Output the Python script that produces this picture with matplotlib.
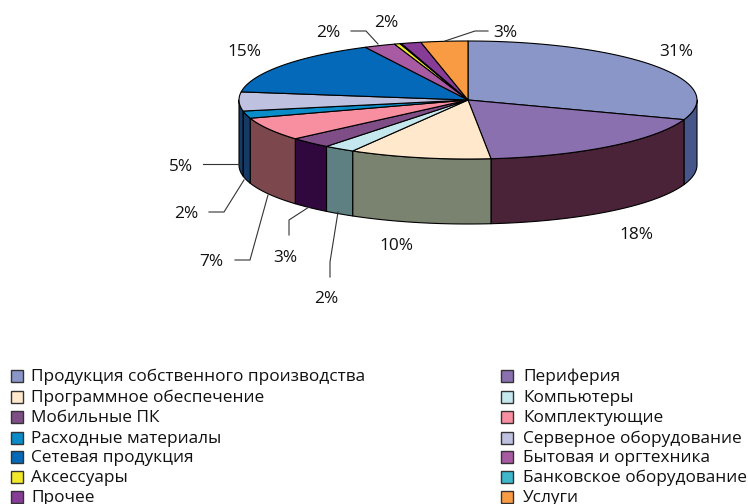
import numpy as np
import matplotlib
matplotlib.use('Agg')
import matplotlib.pyplot as plt
from matplotlib.patches import Rectangle

plt.rcParams['font.family'] = ['Open Sans', 'DejaVu Sans']

categories = ['Продукция собственного производства', 'Периферия', 'Программное обеспечение',
              'Компьютеры', 'Мобильные ПК', 'Комплектующие', 'Расходные материалы',
              'Серверное оборудование', 'Сетевая продукция', 'Бытовая и оргтехника',
              'Аксессуары', 'Банковское оборудование', 'Прочее', 'Услуги']
values = [30.4, 18.0, 10.0, 2.2, 3.0, 6.4, 2.0, 5.2, 15.4, 2.2, 0.4, 0.1, 1.4, 3.3]
top_colors = ['#8A96C8', '#8B70B0', '#FFE8CC', '#C5E8EE', '#7F4E87', '#F78FA0', '#0A8CC8',
              '#BFC1E0', '#0369B8', '#A85AA3', '#F2E82A', '#3FB8CC', '#873C98', '#F99B42']
side_colors = ['#46568A', '#4A2338', '#7A8270', '#5F8083', '#30083E', '#7D474E', '#163A66',
               '#163A66', '#033A66', '#5A2E58', '#807A15', '#20606C', '#46205A', '#80501F']

# percent labels and where they sit
pct_labels = ['31%', '18%', '10%', '2%', '3%', '7%', '2%', '5%', '15%', '2%', '2%', '3%']
pct_x = [676, 636, 396, 326, 285, 211, 186, 181, 244, 328, 386, 505]
pct_y = [52, 235, 246, 299, 258, 262, 214, 167, 52, 33, 23, 33]

# leader lines
leaders = [
    ([203, 240], [164, 164]),
    ([209, 224, 244], [212, 212, 180]),
    ([235, 250, 268], [260, 260, 195]),
    ([289, 289, 309], [235, 220, 207]),
    ([330, 330, 338], [277, 262, 212]),
    ([351, 366, 378], [31, 31, 44]),
    ([445, 475, 488], [41, 31, 31]),
]

cx, cy = 468, 100
rx, ry = 229, 59
depth = 65

fig = plt.figure(figsize=(7.48, 5.04), dpi=100)
ax = fig.add_axes([0, 0, 1, 1])
ax.set_xlim(0, 748)
ax.set_ylim(504, 0)
ax.axis('off')

# slice limits, clockwise from the top
edges = np.concatenate([[0], np.cumsum(values)]) / np.sum(values) * 2 * np.pi

# rim first, only the front half is visible
for i in range(len(values)):
    a = max(edges[i], np.pi / 2)
    b = min(edges[i + 1], 3 * np.pi / 2)
    if b <= a:
        continue
    t = np.linspace(a, b, 60)
    x = cx + rx * np.sin(t)
    y = cy - ry * np.cos(t)
    ax.fill(np.r_[x, x[::-1]], np.r_[y, y[::-1] + depth],
            facecolor=side_colors[i], edgecolor='black', lw=0.8, joinstyle='round')

# top face
for i in range(len(values)):
    t = np.linspace(edges[i], edges[i + 1], 60)
    x = cx + rx * np.sin(t)
    y = cy - ry * np.cos(t)
    ax.fill(np.r_[cx, x], np.r_[cy, y],
            facecolor=top_colors[i], edgecolor='black', lw=0.8, joinstyle='round')

for lx, ly in leaders:
    ax.plot(lx, ly, color='#333333', lw=0.8)

for s, x, y in zip(pct_labels, pct_x, pct_y):
    ax.text(x, y, s, fontsize=12.4, ha='center', va='center', color='#111111')

# legend, two columns, filled row by row
row_y = [376, 397, 417, 438, 457, 477, 497]
for i, name in enumerate(categories):
    row = i // 2
    sx = 11 if i % 2 == 0 else 501
    ax.add_patch(Rectangle((sx, row_y[row] - 6), 12, 12, facecolor=top_colors[i],
                           edgecolor='#333333', lw=1.0))
    ax.text(sx + 20 + (i % 2) * 2, row_y[row] + 1, name, fontsize=12.4, ha='left', va='center',
            color='#111111')

fig.savefig('out.png', dpi=100)
